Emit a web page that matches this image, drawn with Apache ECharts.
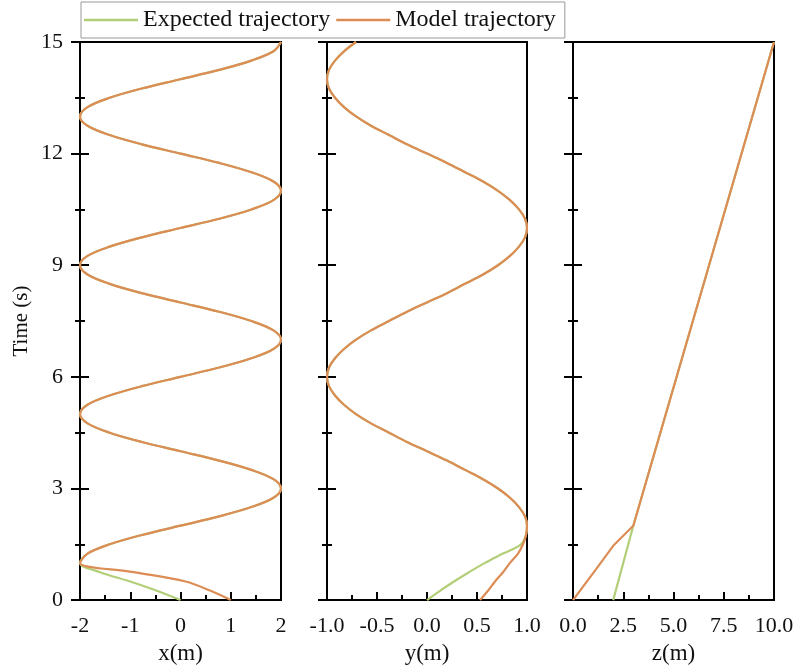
<!DOCTYPE html>
<html>
<head>
<meta charset="utf-8">
<script src="https://cdn.jsdelivr.net/npm/echarts@6/dist/echarts.min.js"></script>
<style>
  html, body { margin: 0; background: #fff; }
  #chart { width: 798px; height: 670px; }
</style>
</head>
<body>
<div id="chart"></div>
<script>
// time samples (s), shared by the x and y panels
const timeSteps = [0, 0.25, 0.5, 0.75, 1, 1.25, 1.5, 1.75, 2, 2.25, 2.5, 2.75, 3, 3.25, 3.5, 3.75,
  4, 4.25, 4.5, 4.75, 5, 5.25, 5.5, 5.75, 6, 6.25, 6.5, 6.75, 7, 7.25, 7.5, 7.75,
  8, 8.25, 8.5, 8.75, 9, 9.25, 9.5, 9.75, 10, 10.25, 10.5, 10.75, 11, 11.25, 11.5, 11.75,
  12, 12.25, 12.5, 12.75, 13, 13.25, 13.5, 13.75, 14, 14.25, 14.5, 14.75, 15];

const xExpected = [0, -0.47, -1.0, -1.6,
  -2, -1.85, -1.41, -0.77, 0, 0.77, 1.41, 1.85, 2, 1.85, 1.41, 0.77, 0, -0.77, -1.41, -1.85,
  -2, -1.85, -1.41, -0.77, 0, 0.77, 1.41, 1.85, 2, 1.85, 1.41, 0.77, 0, -0.77, -1.41, -1.85,
  -2, -1.85, -1.41, -0.77, 0, 0.77, 1.41, 1.85, 2, 1.85, 1.41, 0.77, 0, -0.77, -1.41, -1.85,
  -2, -1.85, -1.41, -0.77, 0, 0.77, 1.41, 1.85, 2];
const xModel = [1, 0.6, 0.1, -0.93,
  -2, -1.85, -1.41, -0.77, 0, 0.77, 1.41, 1.85, 2, 1.85, 1.41, 0.77, 0, -0.77, -1.41, -1.85,
  -2, -1.85, -1.41, -0.77, 0, 0.77, 1.41, 1.85, 2, 1.85, 1.41, 0.77, 0, -0.77, -1.41, -1.85,
  -2, -1.85, -1.41, -0.77, 0, 0.77, 1.41, 1.85, 2, 1.85, 1.41, 0.77, 0, -0.77, -1.41, -1.85,
  -2, -1.85, -1.41, -0.77, 0, 0.77, 1.41, 1.85, 2];

const yExpected = [0, 0.13, 0.27, 0.42, 0.58, 0.76, 0.94, 0.99,
  1, 0.98, 0.92, 0.83, 0.71, 0.56, 0.38, 0.2, 0,
  -0.2, -0.38, -0.56, -0.71, -0.83, -0.92, -0.98, -1,
  -0.98, -0.92, -0.83, -0.71, -0.56, -0.38, -0.2, 0,
  0.2, 0.38, 0.56, 0.71, 0.83, 0.92, 0.98, 1,
  0.98, 0.92, 0.83, 0.71, 0.56, 0.38, 0.2, 0,
  -0.2, -0.38, -0.56, -0.71, -0.83, -0.92, -0.98, -1,
  -0.98, -0.92, -0.83, -0.71];
const yModel = [0.53, 0.61, 0.68, 0.76, 0.83, 0.91, 0.96, 0.99,
  1, 0.98, 0.92, 0.83, 0.71, 0.56, 0.38, 0.2, 0,
  -0.2, -0.38, -0.56, -0.71, -0.83, -0.92, -0.98, -1,
  -0.98, -0.92, -0.83, -0.71, -0.56, -0.38, -0.2, 0,
  0.2, 0.38, 0.56, 0.71, 0.83, 0.92, 0.98, 1,
  0.98, 0.92, 0.83, 0.71, 0.56, 0.38, 0.2, 0,
  -0.2, -0.38, -0.56, -0.71, -0.83, -0.92, -0.98, -1,
  -0.98, -0.92, -0.83, -0.71];

// z panel is piecewise linear, so only the corners are kept
const zTimeExpected = [0, 2, 15];
const zExpected = [2, 3, 10];
const zTimeModel = [0, 0.84, 1.46, 2, 15];
const zModel = [0, 1.16, 2.0, 3.0, 10];

const timeTicks = { min: 0, max: 15, interval: 3 };
const xRange = { min: -2, max: 2, interval: 1 };
const yRange = { min: -1, max: 1, interval: 0.5 };
const zRange = { min: 0, max: 10, interval: 2.5 };

const FONT = 'Liberation Serif';
const GREEN = '#b3ce78';
const ORANGE = '#dc8c55';

const chart = echarts.init(document.getElementById('chart'));

function pairs(xs, ts) {
  return ts.map((t, i) => [xs[i], t]);
}

function grid(left, width) {
  return { left: left, width: width, top: 42, height: 561, show: true,
    borderColor: '#000', borderWidth: 2, backgroundColor: 'transparent' };
}

function bottomAxis(idx, range, name, fmt) {
  return {
    type: 'value', gridIndex: idx, min: range.min, max: range.max, interval: range.interval,
    name: name, nameLocation: 'middle', nameGap: 33,
    nameTextStyle: { fontFamily: FONT, fontSize: 23, color: '#111' },
    axisLine: { show: true, onZero: false, lineStyle: { color: '#000', width: 2 } },
    axisTick: { show: true, inside: true, length: 8, lineStyle: { color: '#000', width: 2 } },
    minorTick: { show: true, splitNumber: 2, length: 5, lineStyle: { color: '#000', width: 2 } },
    splitLine: { show: false },
    axisLabel: { fontFamily: FONT, fontSize: 22, color: '#111', margin: 15,
      formatter: fmt, showMinLabel: true, showMaxLabel: true }
  };
}

function timeAxis(idx, withLabels) {
  return {
    type: 'value', gridIndex: idx, min: timeTicks.min, max: timeTicks.max, interval: timeTicks.interval,
    name: withLabels ? 'Time (s)' : '', nameLocation: 'middle', nameGap: 48,
    nameTextStyle: { fontFamily: FONT, fontSize: 21, color: '#111' },
    axisLine: { show: true, onZero: false, lineStyle: { color: '#000', width: 2 } },
    axisTick: { show: true, inside: false, length: 9, lineStyle: { color: '#000', width: 2 } },
    minorTick: { show: true, splitNumber: 2, length: 5, lineStyle: { color: '#000', width: 2 } },
    splitLine: { show: false },
    axisLabel: { show: withLabels, fontFamily: FONT, fontSize: 22, color: '#111', margin: 17 }
  };
}

// second copy of the time axis only for the inner half of the crossing ticks
function timeAxisInner(idx) {
  return {
    type: 'value', gridIndex: idx, min: timeTicks.min, max: timeTicks.max, interval: timeTicks.interval,
    position: 'left', offset: 0,
    axisLine: { show: false, onZero: false },
    axisTick: { show: true, inside: true, length: 9, lineStyle: { color: '#000', width: 2 } },
    minorTick: { show: true, splitNumber: 2, length: 5, lineStyle: { color: '#000', width: 2 } },
    splitLine: { show: false },
    axisLabel: { show: false }
  };
}

function line(name, color, xi, yi, data, smooth) {
  return {
    name: name, type: 'line', xAxisIndex: xi, yAxisIndex: yi, data: data,
    symbol: 'none', smooth: smooth, clip: false,
    lineStyle: { color: color, width: 2.2 }, itemStyle: { color: color },
    animation: false
  };
}

const fmt1 = v => v.toFixed(1);

chart.setOption({
  animation: false,
  textStyle: { fontFamily: FONT },
  legend: {
    left: 81, top: 2,
    data: [
      { name: 'Expected trajectory', icon: 'rect' },
      { name: 'Model trajectory', icon: 'rect' }
    ],
    itemWidth: 54, itemHeight: 2.5, itemGap: 6,
    padding: [6, 9, 6, 3],
    borderColor: '#999', borderWidth: 1,
    textStyle: { fontFamily: FONT, fontSize: 24, color: '#111' }
  },
  grid: [grid(80, 201), grid(327, 200), grid(573, 201)],
  xAxis: [
    bottomAxis(0, xRange, 'x(m)', v => String(v)),
    bottomAxis(1, yRange, 'y(m)', fmt1),
    bottomAxis(2, zRange, 'z(m)', fmt1)
  ],
  yAxis: [
    timeAxis(0, true), timeAxisInner(0),
    timeAxis(1, false), timeAxisInner(1),
    timeAxis(2, false), timeAxisInner(2)
  ],
  series: [
    line('Expected trajectory', GREEN, 0, 0, pairs(xExpected, timeSteps), 0.35),
    line('Expected trajectory', GREEN, 1, 2, pairs(yExpected, timeSteps), 0.35),
    line('Expected trajectory', GREEN, 2, 4, pairs(zExpected, zTimeExpected), false),
    line('Model trajectory', ORANGE, 0, 0, pairs(xModel, timeSteps), 0.35),
    line('Model trajectory', ORANGE, 1, 2, pairs(yModel, timeSteps), 0.35),
    line('Model trajectory', ORANGE, 2, 4, pairs(zModel, zTimeModel), false)
  ]
});
</script>
</body>
</html>
